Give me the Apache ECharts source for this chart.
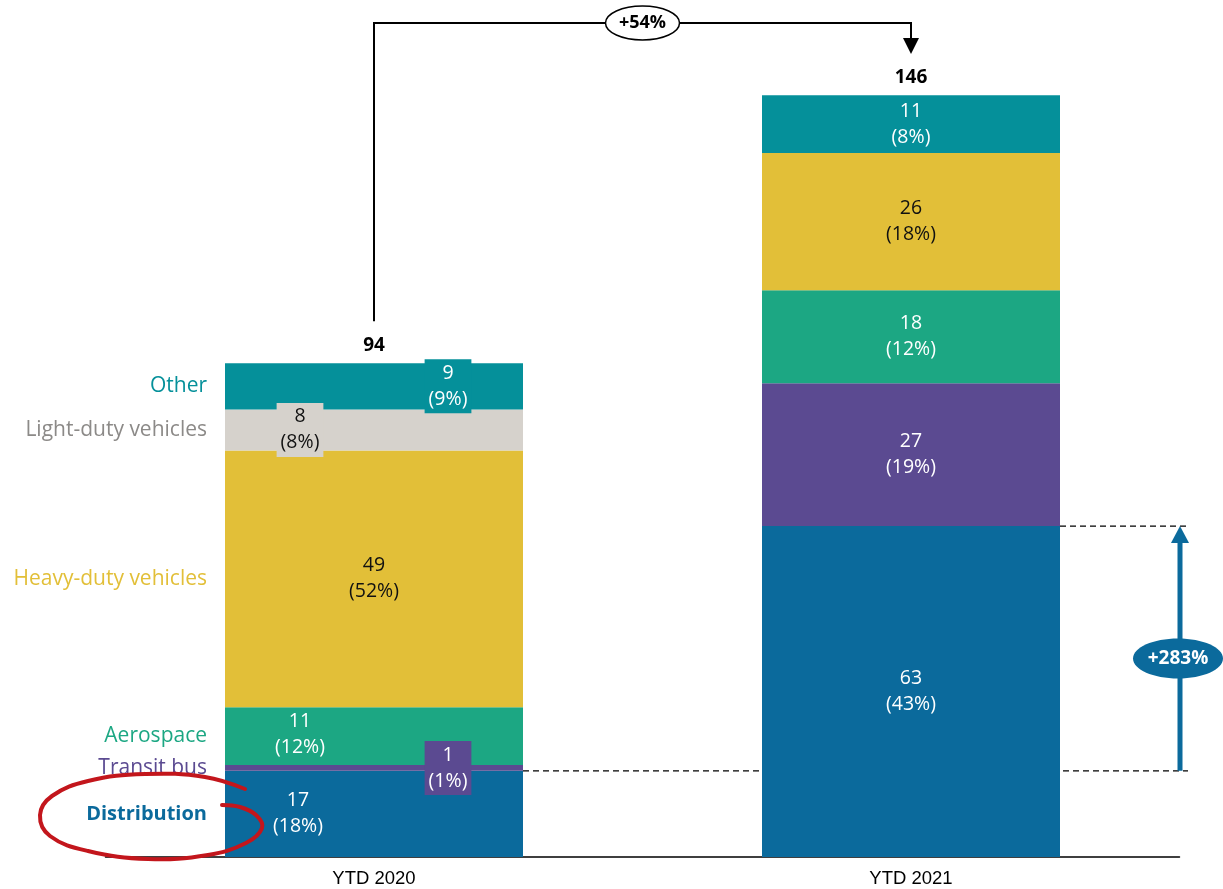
<!DOCTYPE html>
<html>
<head>
<meta charset="utf-8">
<script src="https://cdn.jsdelivr.net/npm/echarts@6/dist/echarts.min.js"></script>
<style>
html, body { margin: 0; padding: 0; background: #fff; }
#main { width: 1223px; height: 889px; }
</style>
</head>
<body>
<div id="main"></div>
<script>
var categories = ['YTD 2020', 'YTD 2021'];

// segment heights as drawn (bottom to top)
var distribution = [16.4, 63.0];
var transitBus = [1.1, 27.2];
var aerospace = [11.0, 17.7];
var heavyDuty = [48.9, 26.1];
var lightDuty = [7.8, 0];
var other = [8.8, 11.0];

// printed values and shares
var distributionShown = [17, 63], distributionShare = [18, 43];
var transitShown = [1, 27], transitShare = [1, 19];
var aerospaceShown = [11, 18], aerospaceShare = [12, 12];
var heavyShown = [49, 26], heavyShare = [52, 18];
var lightShown = [8, null], lightShare = [8, null];
var otherShown = [9, 11], otherShare = [9, 8];

var totals = [94, 146];
var totalGrowth = '+54%';
var distributionGrowth = '+283%';

var FONT = 'Open Sans';
var BAR_W = 298;

var chart = echarts.init(document.getElementById('main'));

function segment(name, values, shown, share, color, textColor, offsets, boxed) {
    return {
        name: name,
        type: 'bar',
        stack: 'main',
        barWidth: BAR_W,
        barGap: '-100%',
        silent: true,
        itemStyle: { color: color },
        data: values.map(function (v, i) {
            var item = { value: v };
            if (shown[i] == null) {
                item.label = { show: false };
            } else {
                item.label = { offset: offsets[i] };
                if (boxed[i]) {
                    item.label.backgroundColor = color;
                    item.label.padding = [1, 4];
                }
            }
            return item;
        }),
        label: {
            show: true,
            position: 'inside',
            color: textColor,
            fontFamily: FONT,
            fontSize: 19.5,
            lineHeight: 26,
            formatter: function (p) {
                return shown[p.dataIndex] + '\n(' + share[p.dataIndex] + '%)';
            }
        }
    };
}

function nameLabel(name, values, color, bold) {
    return {
        name: 'label-' + name,
        type: 'bar',
        stack: 'names',
        barWidth: BAR_W,
        barGap: '-100%',
        silent: true,
        itemStyle: { color: 'rgba(0,0,0,0)' },
        data: [values[0], '-'],
        label: {
            show: true,
            position: 'left',
            distance: 18,
            color: color,
            fontFamily: FONT,
            fontSize: bold ? 20 : 21,
            fontWeight: bold ? 'bold' : 'normal',
            formatter: name
        }
    };
}

var stackSums = categories.map(function (c, i) {
    return distribution[i] + transitBus[i] + aerospace[i] + heavyDuty[i] + lightDuty[i] + other[i];
});

var option = {
    backgroundColor: '#fff',
    animation: false,
    grid: { left: 105.5, right: 43.5, top: 69, bottom: 32 },
    xAxis: {
        type: 'category',
        data: categories,
        axisLine: { lineStyle: { color: '#000', width: 1.5 } },
        axisTick: { show: false },
        axisLabel: { color: '#000', fontFamily: 'Liberation Sans', fontSize: 18.5, margin: 12 }
    },
    yAxis: {
        type: 'value',
        min: 0,
        max: 150,
        show: false
    },
    series: [
        segment('Distribution', distribution, distributionShown, distributionShare, '#0b6a9c', '#fff', [[-76, 0], [0, 0]], [false, false]),
        segment('Transit bus', transitBus, transitShown, transitShare, '#5b4a91', '#fff', [[74, 0], [0, 0]], [true, false]),
        segment('Aerospace', aerospace, aerospaceShown, aerospaceShare, '#1ca783', '#fff', [[-74, -2], [0, 0]], [false, false]),
        segment('Heavy-duty vehicles', heavyDuty, heavyShown, heavyShare, '#e2bf38', '#111', [[0, 0], [0, 0]], [false, false]),
        segment('Light-duty vehicles', lightDuty, lightShown, lightShare, '#d6d2cc', '#111', [[-74, 0], [0, 0]], [true, false]),
        segment('Other', other, otherShown, otherShare, '#05909a', '#fff', [[74, 0], [0, 0]], [true, false]),
        nameLabel('Distribution', distribution, '#0b6a9c', true),
        nameLabel('Transit bus', transitBus, '#5b4a91', false),
        nameLabel('Aerospace', aerospace, '#1ca783', false),
        nameLabel('Heavy-duty vehicles', heavyDuty, '#e2bf38', false),
        nameLabel('Light-duty vehicles', lightDuty, '#8c8a88', false),
        nameLabel('Other', other, '#05909a', false),
        {
            name: 'total',
            type: 'bar',
            barWidth: BAR_W,
            barGap: '-100%',
            silent: true,
            z: 1,
            itemStyle: { color: 'rgba(0,0,0,0)' },
            data: stackSums,
            label: {
                show: true,
                position: 'top',
                distance: 8,
                color: '#000',
                fontFamily: FONT,
                fontSize: 19,
                fontWeight: 'bold',
                formatter: function (p) { return String(totals[p.dataIndex]); }
            }
        }
    ]
};

chart.setOption(option);

// annotations placed from the chart's own scales
var g = { gridIndex: 0 };
var top20 = chart.convertToPixel(g, [categories[0], stackSums[0]]);
var top21 = chart.convertToPixel(g, [categories[1], stackSums[1]]);
var dist20 = chart.convertToPixel(g, [categories[0], distribution[0]]);
var dist21 = chart.convertToPixel(g, [categories[1], distribution[1]]);
var x20 = top20[0], x21 = top21[0];
var bracketY = 23;
var arrowX = 1180;
var midX = (x20 + x21) / 2;

// hand-drawn loop round the Distribution label
var loopPoints = [[245, 789], [205, 777], [145, 774], [88, 781], [52, 796], [40, 815], [50, 836],
    [88, 851], [148, 859], [208, 855], [246, 843], [262, 828], [256, 815], [240, 807], [222, 805]];

chart.setOption({
    graphic: [
        {
            type: 'polyline',
            shape: { points: [[x20, top20[1] - 42], [x20, bracketY], [x21, bracketY], [x21, 40]] },
            style: { stroke: '#000', lineWidth: 2, fill: null }
        },
        {
            type: 'polygon',
            shape: { points: [[x21 - 8, 38], [x21 + 8, 38], [x21, 54]] },
            style: { fill: '#000' }
        },
        {
            type: 'ellipse',
            shape: { cx: midX, cy: bracketY, rx: 37, ry: 17 },
            style: { fill: '#fff', stroke: '#000', lineWidth: 1.5 }
        },
        {
            type: 'text',
            x: midX, y: bracketY,
            style: { text: totalGrowth, fill: '#000', font: 'bold 18px "Open Sans"', align: 'center', verticalAlign: 'middle' }
        },
        {
            type: 'line',
            shape: { x1: x20 + BAR_W / 2, y1: dist20[1], x2: 1188, y2: dist20[1] },
            style: { stroke: '#000', lineWidth: 1.2, lineDash: [6, 4] }
        },
        {
            type: 'line',
            shape: { x1: x21 + BAR_W / 2, y1: dist21[1], x2: 1188, y2: dist21[1] },
            style: { stroke: '#000', lineWidth: 1.2, lineDash: [6, 4] }
        },
        {
            type: 'line',
            shape: { x1: arrowX, y1: dist20[1], x2: arrowX, y2: dist21[1] + 14 },
            style: { stroke: '#0b6a9c', lineWidth: 5 }
        },
        {
            type: 'polygon',
            shape: { points: [[arrowX - 9, dist21[1] + 17], [arrowX + 9, dist21[1] + 17], [arrowX, dist21[1]]] },
            style: { fill: '#0b6a9c' }
        },
        {
            type: 'ellipse',
            shape: { cx: arrowX - 2, cy: (dist20[1] + dist21[1]) / 2 + 10, rx: 45, ry: 20 },
            style: { fill: '#0b6a9c' }
        },
        {
            type: 'text',
            x: arrowX - 2, y: (dist20[1] + dist21[1]) / 2 + 10,
            style: { text: distributionGrowth, fill: '#fff', font: 'bold 19px "Open Sans"', align: 'center', verticalAlign: 'middle' }
        },
        {
            type: 'polyline',
            zlevel: 1,
            z: 100,
            shape: { points: loopPoints, smooth: 0.4 },
            style: { stroke: '#c3161c', lineWidth: 4, fill: null, lineCap: 'round', lineJoin: 'round' }
        }
    ]
});
</script>
</body>
</html>
